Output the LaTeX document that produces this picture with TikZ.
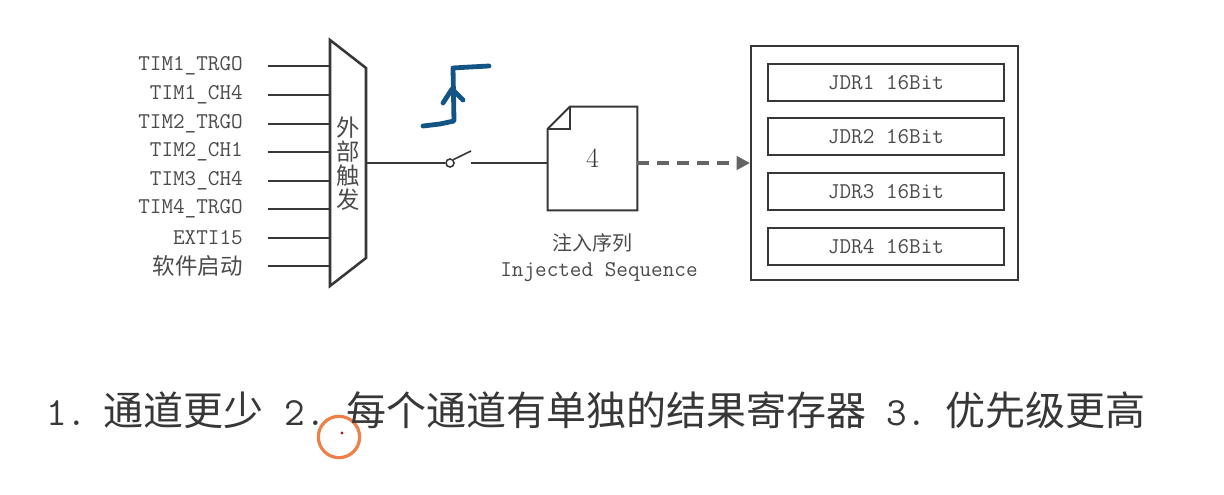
\documentclass[tikz,border=0pt]{standalone}
\usepackage{fontspec}
\newfontfamily\cjk{Noto Sans CJK SC}
\usetikzlibrary{arrows.meta}
\definecolor{ink}{RGB}{55, 55, 55}
\definecolor{labelgray}{RGB}{75, 75, 75}
\definecolor{arrowgray}{RGB}{100, 100, 100}
\definecolor{penblue}{RGB}{18, 84, 132}
\definecolor{cursor}{RGB}{238, 128, 72}
\definecolor{cursordot}{RGB}{170, 30, 40}
\tikzset{
  siglabel/.style={anchor=east, text=labelgray, inner sep=0pt, font=\fontsize{16.9}{18}\selectfont\ttfamily},
  sigline/.style={draw=ink, line width=2.2pt},
  thinline/.style={draw=ink, line width=1.2pt},
  regbox/.style={draw=ink, line width=1.5pt, minimum width=177pt, minimum height=27.75pt, inner sep=0pt,
                 text=labelgray, font=\fontsize{16.9}{18}\selectfont\ttfamily},
  pen/.style={draw=penblue, line width=3.6pt, line cap=round, line join=round}
}
\begin{document}
\begin{tikzpicture}[x=0.75pt, y=-0.75pt]
  \useasboundingbox (0,0) rectangle (1224,495);
  % trigger multiplexer
  \coordinate (muxtl) at (330, 40);
  \coordinate (muxtr) at (366, 68);
  \coordinate (muxbr) at (366,258);
  \coordinate (muxbl) at (330,286);
  \draw[draw=ink, line width=1.9pt, line join=miter] (muxtl) -- (muxtr) -- (muxbr) -- (muxbl) -- cycle;
  \node[align=center, text=labelgray, inner sep=0pt, font=\cjk\fontsize{17.5}{18}\selectfont] (muxtxt) at (348,164) {外\\部\\触\\发};
  % trigger sources
  \foreach \y/\name/\txt in {66/t1trgo/TIM1\_TRGO, 95/t1ch4/TIM1\_CH4, 124/t2trgo/TIM2\_TRGO, 152/t2ch1/TIM2\_CH1,
                            181/t3ch4/TIM3\_CH4, 209/t4trgo/TIM4\_TRGO, 238/exti/EXTI15, 266/soft/{\cjk 软件启动}} {
    \node[siglabel] (\name) at (243,\y) {\txt};
    \coordinate (\name-in) at (268,\y);
    \draw[sigline] (\name-in) -- (muxtl |- \name-in);
  }
  % switch
  \coordinate (muxout) at (366,163);
  \node[circle, draw=ink, line width=1.2pt, minimum size=6pt, inner sep=0pt] (sw) at (450,163) {};
  \coordinate (swtip) at (471,151);
  \coordinate (swend) at (471,163);
  \draw[thinline] (muxout) -- (sw.west);
  \draw[thinline] (sw.north east) -- (swtip);
  % injected sequence
  \node[minimum width=66.75pt, minimum height=77.25pt, inner sep=0pt, font=\fontsize{21}{24}\selectfont,
        text=ink] (seq) at (592.5,158.5) {\raisebox{-3pt}{4}};
  \draw[draw=ink, line width=1.5pt, line join=miter]
        ([yshift=-16.5pt]seq.north west) -- ([xshift=16.5pt]seq.north west) -- (seq.north east)
        -- (seq.south east) -- (seq.south west) -- cycle;
  \draw[draw=ink, line width=1.5pt] ([yshift=-16.5pt]seq.north west) -| ([xshift=16.5pt]seq.north west);
  \draw[thinline] (swend) -- (seq.west |- swend);
  \node[text=labelgray, font=\cjk\fontsize{15}{18}\selectfont, inner sep=0pt] (seqcn) at (592,243) {注入序列};
  \node[text=labelgray, font=\fontsize{16.9}{18}\selectfont\ttfamily, inner sep=0pt] (seqen) at (599,272) {Injected Sequence};
  % data registers
  \node[draw=ink, line width=1.5pt, minimum width=200.25pt, minimum height=175.5pt, inner sep=0pt] (jdr) at (884.5,163) {};
  \foreach \i/\y in {1/83, 2/137, 3/192, 4/247} {
    \node[regbox] (jdr\i) at (886,\y) {JDR\i{} 16Bit};
  }
  \draw[draw=arrowgray, line width=2.6pt, dash pattern=on 9pt off 6pt, -{Triangle[length=10pt, width=10pt]}]
        (seq.east |- jdr.west) -- (jdr.west);
  % pen annotation
  \draw[pen] (423,126) -- (440,124) -- (454,121) -- (453,68) -- (470,67) -- (489,66);
  \draw[pen] (443,103) -- (452,89) -- (463,100);
  \node[circle, draw=cursor, line width=2.4pt, minimum size=31pt, inner sep=0pt] (cur) at (339,437) {};
  \fill[cursordot] (342,433) circle (1.2pt);
  % summary
  \node[anchor=west, text=ink, inner sep=0pt, font=\fontsize{30}{32}\selectfont] (notes) at (46,410)
        {{\ttfamily 1.}\hspace{12pt}{\cjk 通道更少}\hspace{16pt}{\ttfamily 2.}\hspace{15pt}{\cjk 每个通道有单独的结果寄存器}%
         \hspace{15pt}{\ttfamily 3.}\hspace{14pt}{\cjk 优先级更高}};
\end{tikzpicture}
\end{document}
